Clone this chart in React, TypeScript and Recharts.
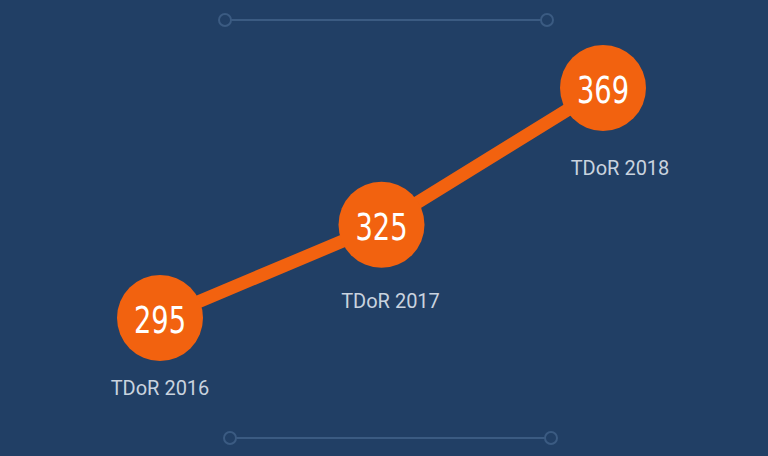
import { LineChart, Line, XAxis, YAxis } from 'recharts';

// values
const years = ['TDoR 2016', 'TDoR 2017', 'TDoR 2018'];
const counts = [295, 325, 369];

const data = years.map((year, i) => ({ year, count: counts[i] }));

const ORANGE = '#f2620f';
const BG = '#213f65';
const DECO = '#3b5b82';

// labels drift a little to the right in the original layout
const labelDx = [0, 9, 17];
const labelDy = [70, 76, 80];

const renderDot = (props: any) => {
  const { cx, cy, index, payload } = props;
  return (
    <g key={`dot-${index}`}>
      <circle cx={cx} cy={cy} r={43} fill={ORANGE} />
      <g transform={`translate(${cx},${cy + 2}) scale(0.72,1)`}>
        <text
          x={0}
          y={0}
          fill="#fff"
          textAnchor="middle"
          dominantBaseline="central"
          fontSize={38}
          fontFamily="'DejaVu Sans', sans-serif"
        >
          {payload.count}
        </text>
      </g>
      <text
        x={cx + labelDx[index]}
        y={cy + labelDy[index]}
        fill="#c9d3df"
        textAnchor="middle"
        dominantBaseline="central"
        fontSize={20}
        fontFamily="Roboto, sans-serif"
      >
        {payload.year}
      </text>
    </g>
  );
};

const Deco = ({ x1, x2, y }: { x1: number; x2: number; y: number }) => (
  <g stroke={DECO} strokeWidth={2} fill="none">
    <line x1={x1 + 6} y1={y} x2={x2 - 6} y2={y} />
    <circle cx={x1} cy={y} r={6} />
    <circle cx={x2} cy={y} r={6} />
  </g>
);

const App = () => {
  return (
    <div style={{ position: 'fixed', top: 0, left: 0, width: 768, height: 456, background: BG }}>
      <svg width={768} height={456} style={{ position: 'absolute', top: 0, left: 0 }}>
        <Deco x1={225} x2={547} y={20} />
        <Deco x1={230} x2={551} y={438} />
      </svg>
      <div style={{ position: 'absolute', top: 0, left: 0 }}>
        <LineChart width={768} height={456} data={data} margin={{ top: 0, right: 0, bottom: 0, left: 0 }}>
          <XAxis dataKey="year" hide padding={{ left: 160, right: 165 }} />
          <YAxis hide domain={[250.6, 397.3]} />
          <Line
            dataKey="count"
            stroke={ORANGE}
            strokeWidth={13}
            dot={renderDot}
            activeDot={false}
            isAnimationActive={false}
          />
        </LineChart>
      </div>
    </div>
  );
};

export default App;
